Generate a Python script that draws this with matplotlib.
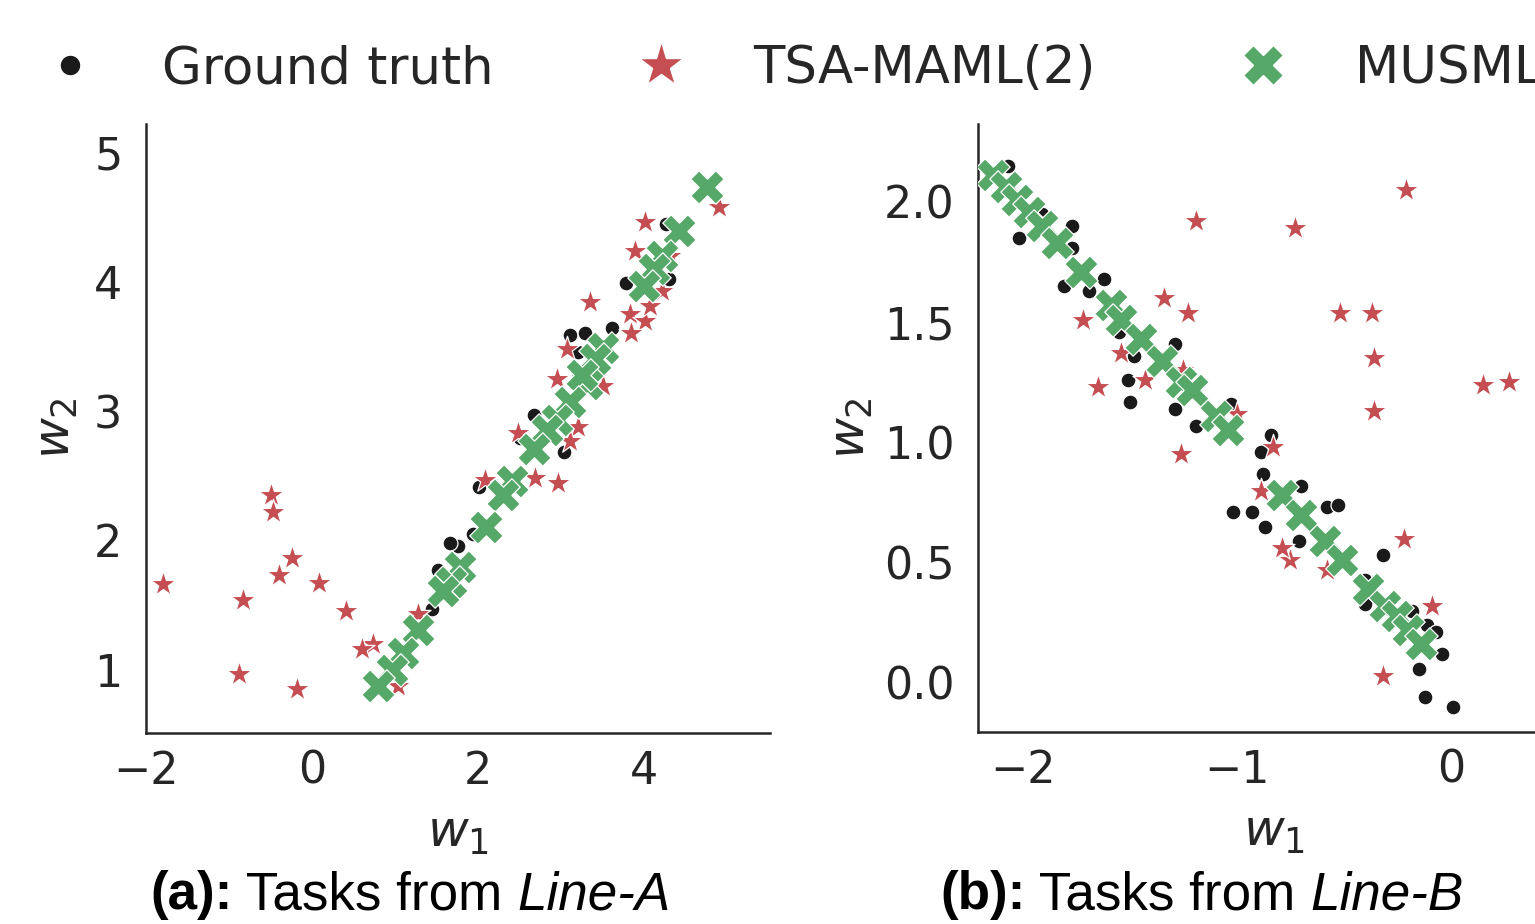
import matplotlib
matplotlib.use("Agg")
import matplotlib.pyplot as plt
from matplotlib.lines import Line2D
from matplotlib.offsetbox import TextArea, HPacker, AnnotationBbox

# ---- data ----
# panel (a): tasks from Line-A
gt_a_w1 = [3.11, 3.29, 3.61, 3.78, 4.30, 4.27, 2.67, 3.04, 2.01, 1.94, 1.76, 1.66,
           1.52, 1.45, 3.21, 2.51]
gt_a_w2 = [3.59, 3.60, 3.64, 3.99, 4.02, 4.45, 2.97, 2.68, 2.41, 2.05, 1.96, 1.98,
           1.77, 1.47, 3.46, 2.79]

tsa_a_w1 = [-1.79, -0.83, -0.88, -0.49, -0.47, -0.24, -0.40, 0.09, -0.18, 0.41, 0.74,
            0.60, 1.28, 1.04, 4.01, 4.91, 3.89, 3.35, 3.83, 4.01, 3.84, 3.07, 2.95,
            3.51, 2.48, 2.97, 2.69, 3.21, 3.11, 2.08, 4.32, 4.22, 4.07]
tsa_a_w2 = [1.66, 1.54, 0.97, 2.35, 2.22, 1.86, 1.73, 1.67, 0.85, 1.45, 1.20,
            1.16, 1.43, 0.87, 4.46, 4.58, 4.24, 3.84, 3.75, 3.70, 3.60, 3.48, 3.25,
            3.19, 2.83, 2.44, 2.48, 2.88, 2.77, 2.47, 4.20, 3.93, 3.81]

musml_a_w1 = [4.76, 4.42, 4.22, 4.12, 4.00, 3.51, 3.41, 3.31, 3.25, 3.11, 2.95, 2.83,
              2.67, 2.41, 2.30, 2.10, 1.78, 1.68, 1.58, 1.28, 1.10, 0.97, 0.80]
musml_a_w2 = [4.73, 4.39, 4.20, 4.10, 3.97, 3.49, 3.40, 3.21, 3.28, 3.07, 2.93, 2.85,
              2.71, 2.46, 2.35, 2.10, 1.79, 1.68, 1.61, 1.31, 1.13, 1.00, 0.87]

# panel (b): tasks from Line-B
gt_b_w1 = [-2.07, -2.02, -1.91, -1.77, -1.77, -1.81, -1.62, -1.69, -1.51, -1.50, -1.29,
           -1.48, -1.55, -1.29, -1.03, -1.19, -0.84, -0.89, -0.88, -1.02, -0.93, -0.87,
           -0.70, -0.58, -0.53, -0.71, -0.32, -0.40, -0.40, -0.18, -0.11, -0.07, -0.04,
           -0.15, -0.12, 0.01]
gt_b_w2 = [2.15, 1.85, 1.95, 1.90, 1.81, 1.65, 1.68, 1.63, 1.26, 1.17, 1.41,
           1.36, 1.46, 1.14, 1.16, 1.07, 1.03, 0.96, 0.87, 0.71, 0.71, 0.65,
           0.82, 0.73, 0.74, 0.59, 0.53, 0.43, 0.33, 0.30, 0.24, 0.21, 0.12,
           0.06, -0.06, -0.10]

tsa_b_w1 = [-0.21, -1.19, -0.73, -1.34, -1.23, -1.72, -0.52, -0.37, -0.36, -0.36, 0.15,
            0.27, -1.65, -1.43, -1.54, -1.26, -0.89, -0.75, -0.79, -0.22, -0.09, -0.32,
            -0.83, -1.00, -1.25, -0.58]
tsa_b_w2 = [2.05, 1.92, 1.89, 1.60, 1.54, 1.51, 1.54, 1.54, 1.35, 1.13, 1.24,
            1.25, 1.23, 1.26, 1.37, 0.95, 0.80, 0.51, 0.56, 0.60, 0.32, 0.03,
            0.98, 1.12, 1.30, 0.47]

musml_b_w1 = [-2.14, -2.08, -2.03, -1.97, -1.91, -1.84, -1.73, -1.59, -1.54, -1.45, -1.35,
              -1.26, -1.21, -1.10, -1.04, -0.79, -0.70, -0.59, -0.51, -0.39, -0.31, -0.25,
              -0.20, -0.14]
musml_b_w2 = [2.11, 2.06, 2.01, 1.96, 1.90, 1.83, 1.71, 1.57, 1.51, 1.43, 1.34,
              1.25, 1.22, 1.11, 1.05, 0.78, 0.70, 0.59, 0.51, 0.39, 0.32, 0.28,
              0.22, 0.16]

names = ["Ground truth", "TSA-MAML(2)", "MUSML"]

# ---- style ----
BLACK, RED, GREEN = "#1a1a1a", "#C44E52", "#55A868"
DARK = "#262626"
plt.rcParams["font.family"] = "DejaVu Sans"
plt.rcParams["axes.edgecolor"] = DARK
plt.rcParams["axes.linewidth"] = 1.8
plt.rcParams["xtick.color"] = DARK
plt.rcParams["ytick.color"] = DARK
plt.rcParams["axes.labelcolor"] = DARK

W, H = 1535, 924
fig = plt.figure(figsize=(W / 100, H / 100), dpi=100)


def px_axes(x0, x1, ytop, ybot):
    return fig.add_axes([x0 / W, (H - ybot) / H, (x1 - x0) / W, (ybot - ytop) / H])


def draw_panel(ax, gt, tsa, mus, xlim, ylim, xticks, yticks, yfmt, ylab_x):
    ax.scatter(gt[0], gt[1], s=115, marker="o", color=BLACK, edgecolor="white", linewidth=0.9, zorder=3)
    ax.scatter(tsa[0], tsa[1], s=360, marker="*", color=RED, edgecolor="white", linewidth=0.9, zorder=4)
    ax.scatter(mus[0], mus[1], s=580, marker="X", color=GREEN, edgecolor="white", linewidth=0.9, zorder=5)
    ax.set_xlim(*xlim)
    ax.set_ylim(*ylim)
    ax.set_xticks(xticks)
    ax.set_yticks(yticks)
    ax.set_yticklabels([yfmt.format(v) for v in yticks])
    for s in ("top", "right"):
        ax.spines[s].set_visible(False)
    ax.tick_params(axis="both", length=0, labelsize=32)
    ax.tick_params(axis="x", pad=12)
    ax.tick_params(axis="y", pad=17)
    ax.set_xlabel("$w_1$", fontsize=36)
    ax.set_ylabel("$w_2$", fontsize=36)
    ax.xaxis.set_label_coords(0.5, -0.125)
    ax.yaxis.set_label_coords(ylab_x, 0.5)


ax1 = px_axes(146, 770, 124, 733)
draw_panel(ax1, (gt_a_w1, gt_a_w2), (tsa_a_w1, tsa_a_w2), (musml_a_w1, musml_a_w2),
           (-2.0, 5.52), (0.51, 5.22), [-2, 0, 2, 4], [1, 2, 3, 4, 5], "{:g}", -0.106)

ax2 = px_axes(978, 1570, 124, 732)
draw_panel(ax2, (gt_b_w1, gt_b_w2), (tsa_b_w1, tsa_b_w2), (musml_b_w1, musml_b_w2),
           (-2.21, 0.556), (-0.204, 2.324), [-2, -1, 0], [0, 0.5, 1, 1.5, 2], "{:.1f}", -0.174)


def caption(x, y, tag, line):
    kw = dict(family="Liberation Sans", size=38.2, color="black")
    parts = [TextArea(tag, textprops=dict(weight="bold", **kw)),
             TextArea(" Tasks from ", textprops=kw),
             TextArea(line, textprops=dict(style="italic", **kw))]
    box = HPacker(children=parts, pad=0, sep=0, align="baseline")
    ab = AnnotationBbox(box, (x / W, (H - y) / H), xycoords="figure fraction",
                        box_alignment=(0, 0.5), frameon=False, pad=0)
    fig.add_artist(ab)


caption(150, 895, "(a):", "Line-A")
caption(940, 895, "(b):", "Line-B")

handles = [
    Line2D([], [], ls="none", marker="o", markersize=15, color=BLACK, markeredgecolor="white"),
    Line2D([], [], ls="none", marker="*", markersize=34, color=RED, markeredgecolor="white"),
    Line2D([], [], ls="none", marker="X", markersize=29, color=GREEN, markeredgecolor="white"),
]
fig.legend(handles, names, loc="upper left", bbox_to_anchor=(-28 / W, 1 + 2 / H), ncol=3,
           frameon=False, fontsize=37, columnspacing=2.25, handletextpad=0.8,
           labelcolor=DARK)

fig.savefig("out.png", dpi=100)
